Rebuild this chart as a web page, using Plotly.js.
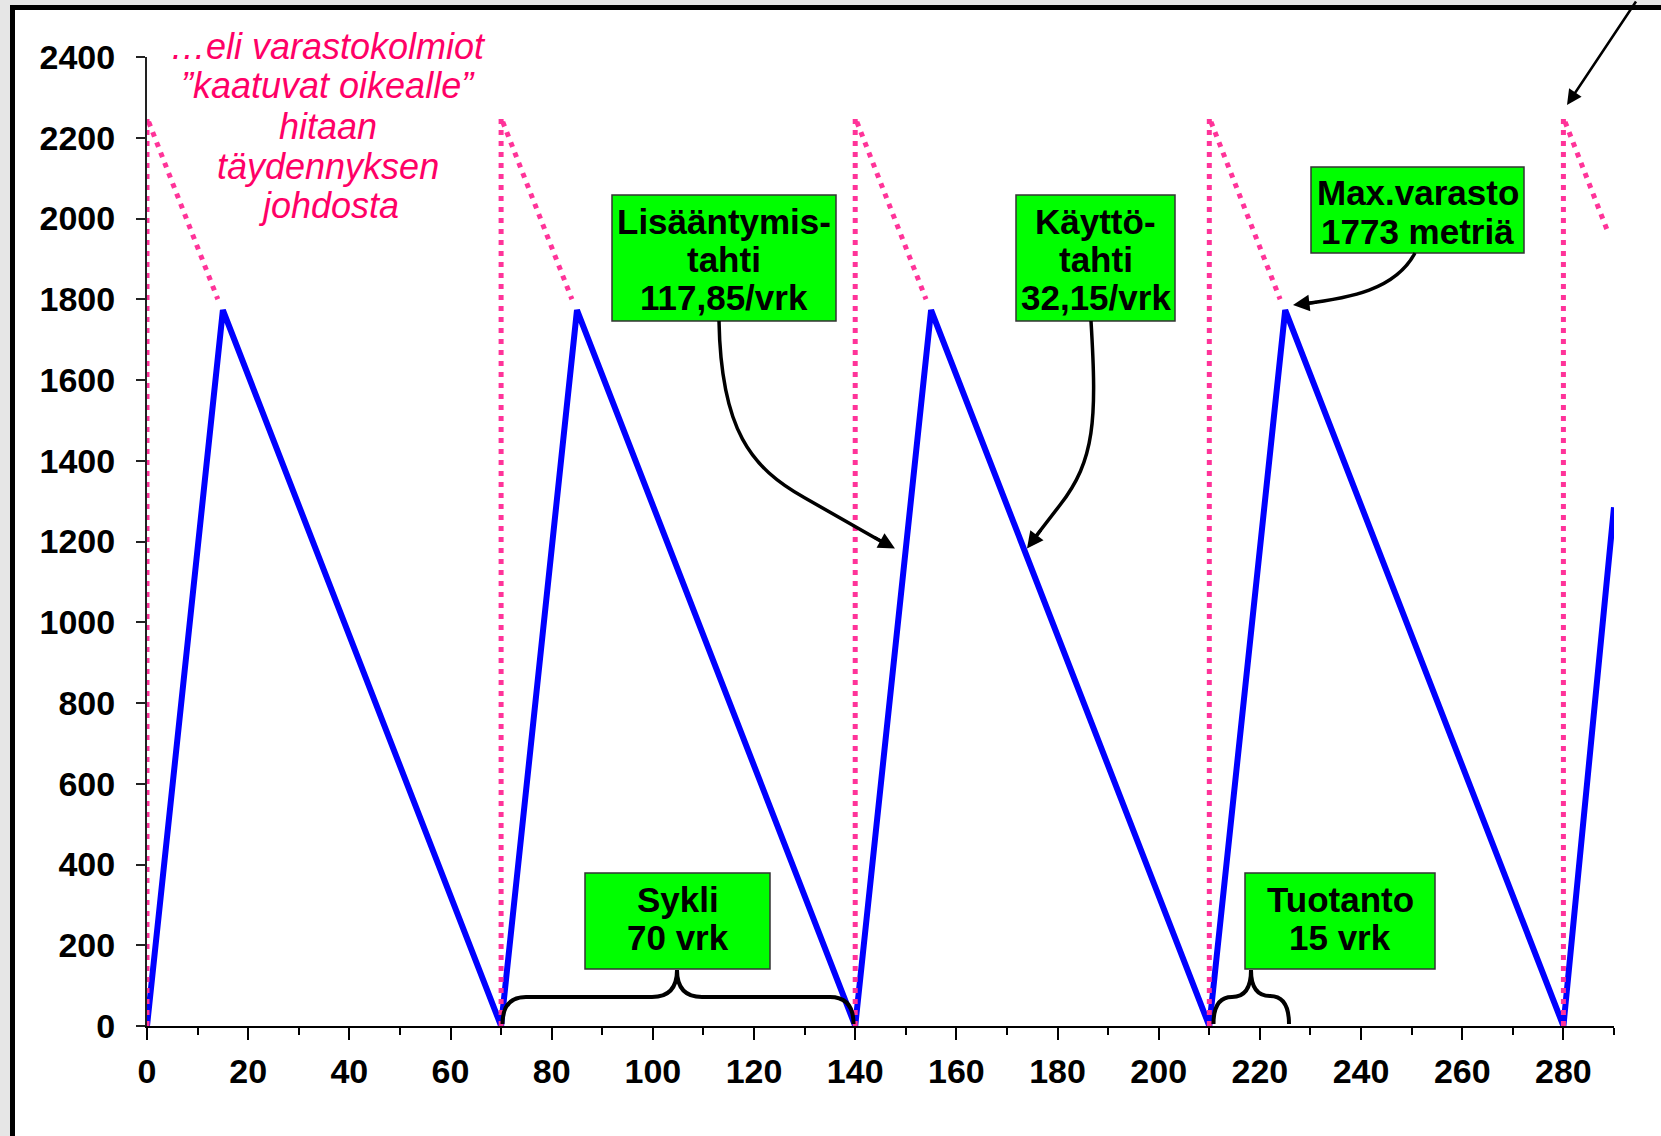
<!DOCTYPE html>
<html>
<head>
<meta charset="utf-8">
<script src="https://cdn.plot.ly/plotly-3.0.1.min.js"></script>
<style>
  html, body { margin: 0; padding: 0; background: #e6e6e6; }
  #chart { width: 1661px; height: 1136px; }
</style>
</head>
<body>
<div id="chart"></div>
<script>
// ---- data ----
const days = [0, 15, 70, 85, 140, 155, 210, 225, 280, 290];
const stock = [0, 1773, 0, 1773, 0, 1773, 0, 1773, 0, 1285];

const instantDays  = [0, 0, 14, null, 70, 70, 84, null, 140, 140, 154, null, 210, 210, 224, null, 280, 280, 289];
const instantStock = [0, 2250, 1800, null, 0, 2250, 1800, null, 0, 2250, 1800, null, 0, 2250, 1800, null, 0, 2250, 1960];

const xTickVals = [0, 20, 40, 60, 80, 100, 120, 140, 160, 180, 200, 220, 240, 260, 280];
const yTickVals = [0, 200, 400, 600, 800, 1000, 1200, 1400, 1600, 1800, 2000, 2200, 2400];

const noteLines = ["…eli varastokolmiot", "”kaatuvat oikealle”", "hitaan", "täydennyksen", "johdosta"];

const boxLabels = [
  { lines: ["Lisääntymis-", "tahti", "117,85/vrk"] },
  { lines: ["Käyttö-", "tahti", "32,15/vrk"] },
  { lines: ["Max.varasto", "1773 metriä"] },
  { lines: ["Sykli", "70 vrk"] },
  { lines: ["Tuotanto", "15 vrk"] }
];

// ---- layout geometry ----
const W = 1661, H = 1136;
const mar = { l: 147, r: 47, t: 57, b: 110 };
const xMax = 290, yMax = 2400;
const pw = W - mar.l - mar.r, ph = H - mar.t - mar.b;
// pixel -> data / paper helpers for annotation placement
const X = px => (px - mar.l) / pw * xMax;
const Y = py => (H - mar.b - py) / ph * yMax;
const PX = px => (px - mar.l) / pw;
const PY = py => (H - mar.b - py) / ph;

// box geometry (pixels)
const boxGeom = [
  { x0: 612, x1: 836, y0: 195, y1: 321, cy: [221, 259, 297.5] },
  { x0: 1016, x1: 1175, y0: 195, y1: 321, cy: [221, 259, 297.5] },
  { x0: 1311, x1: 1524, y0: 167, y1: 253, cy: [192, 231.5] },
  { x0: 585, x1: 770, y0: 873, y1: 969, cy: [899, 937.5] },
  { x0: 1245, x1: 1435, y0: 873, y1: 969, cy: [899, 937.5] }
];

const shapes = [];
const annotations = [];

// outer frame
shapes.push({
  type: 'rect', xref: 'paper', yref: 'paper', layer: 'below',
  x0: PX(12.5), x1: PX(1720), y0: PY(7.5), y1: PY(1220),
  fillcolor: 'white', line: { color: 'black', width: 5 }
});

// green boxes + their text
boxLabels.forEach((b, i) => {
  const g = boxGeom[i];
  shapes.push({
    type: 'rect', xref: 'paper', yref: 'paper', layer: 'above',
    x0: PX(g.x0), x1: PX(g.x1), y0: PY(g.y1), y1: PY(g.y0),
    fillcolor: '#00ff00', line: { color: '#333', width: 1.5 }
  });
  b.lines.forEach((t, j) => {
    annotations.push({
      xref: 'paper', yref: 'paper', x: PX((g.x0 + g.x1) / 2), y: PY(g.cy[j]),
      text: t, showarrow: false, xanchor: 'center', yanchor: 'middle',
      font: { family: 'Liberation Sans, Arial, sans-serif', size: 35, color: 'black', weight: 'bold' }
    });
  });
});

// pink italic note
const noteCy = [46, 86, 126, 166, 206];
noteLines.forEach((t, j) => {
  annotations.push({
    xref: 'paper', yref: 'paper', x: PX(328), y: PY(noteCy[j]),
    text: t, showarrow: false, xanchor: 'center', yanchor: 'middle',
    font: { family: 'Liberation Sans, Arial, sans-serif', size: 36, color: '#ff0066', style: 'italic' }
  });
});

// curly braces
function pathFromPx(cmds) {
  return cmds.map(c => c[0] + ' ' + c.slice(1).map(p => X(p[0]).toFixed(3) + ',' + Y(p[1]).toFixed(3)).join(' ')).join(' ');
}
const braceSykli = [
  ['M', [502.5, 1024]], ['Q', [502.5, 997], [526, 997]], ['L', [652, 997]],
  ['Q', [677, 997], [677, 970]], ['Q', [677, 997], [702, 997]], ['L', [830, 997]],
  ['Q', [853.5, 997], [853.5, 1024]]
];
const braceTuot = [
  ['M', [1213.5, 1024]], ['Q', [1213.5, 997], [1232, 997]], ['Q', [1251, 997], [1251, 970]],
  ['Q', [1251, 996], [1270, 996]], ['Q', [1289, 996], [1289, 1024]]
];
[braceSykli, braceTuot].forEach(b => shapes.push({
  type: 'path', xref: 'x', yref: 'y', layer: 'above', path: pathFromPx(b),
  line: { color: 'black', width: 4 }
}));

// curved arrows (bodies)
const arrowBodies = [
  [['M', [719, 321]], ['C', [721, 430], [751, 468], [805, 498]], ['L', [884, 543]]],
  [['M', [1091, 321]], ['C', [1097, 420], [1095, 460], [1060, 505]], ['L', [1033, 540]]],
  [['M', [1415, 253]], ['C', [1395, 290], [1350, 298], [1303, 304]]]
];
arrowBodies.forEach(b => shapes.push({
  type: 'path', xref: 'x', yref: 'y', layer: 'above', path: pathFromPx(b),
  line: { color: 'black', width: 3.5 }
}));
// arrow heads
const heads = [
  { tip: [895, 548.5], ax: -22, ay: -12, w: 3, s: 1.1 },
  { tip: [1027, 548.5], ax: 15, ay: -20, w: 3, s: 1.1 },
  { tip: [1293, 305], ax: 25, ay: -3, w: 3, s: 1.1 },
  { tip: [1567, 105], ax: 70, ay: -120, w: 2.5, s: 1.2 }
];
heads.forEach(h => annotations.push({
  xref: 'paper', yref: 'paper', x: PX(h.tip[0]), y: PY(h.tip[1]), ax: h.ax, ay: h.ay,
  text: '', showarrow: true, arrowhead: 2, arrowsize: h.s, arrowwidth: h.w,
  arrowcolor: 'black', standoff: 0
}));

const traces = [
  {
    x: days, y: stock, type: 'scatter', mode: 'lines',
    line: { color: '#0000ff', width: 6 }, hoverinfo: 'skip'
  },
  {
    x: instantDays, y: instantStock, type: 'scatter', mode: 'lines',
    line: { color: '#ff3399', width: 5, dash: '5px,6px' }, hoverinfo: 'skip', connectgaps: false
  }
];

const tickFont = { family: 'Liberation Sans, Arial, sans-serif', size: 34, color: 'black', weight: 'bold' };

const layout = {
  width: W, height: H,
  margin: mar,
  paper_bgcolor: '#e6e6e6',
  plot_bgcolor: 'rgba(0,0,0,0)',
  showlegend: false,
  xaxis: {
    range: [0, xMax], tickvals: xTickVals, ticktext: xTickVals.map(String),
    ticks: 'outside', ticklen: 12, tickwidth: 2, tickcolor: 'black',
    minor: { dtick: 10, tick0: 0, ticks: 'outside', ticklen: 7, tickwidth: 2, tickcolor: 'black' },
    showline: true, linecolor: 'black', linewidth: 2,
    showgrid: false, zeroline: false, tickfont: tickFont, ticklabelstandoff: 2
  },
  yaxis: {
    range: [0, yMax], tickvals: yTickVals, ticktext: yTickVals.map(String),
    ticks: 'outside', ticklen: 9, tickwidth: 2, tickcolor: '#222',
    showline: true, linecolor: '#222', linewidth: 2,
    showgrid: false, zeroline: false, tickfont: tickFont, ticklabelstandoff: 14
  },
  shapes: shapes,
  annotations: annotations
};

Plotly.newPlot('chart', traces, layout, { displayModeBar: false, staticPlot: true });
</script>
</body>
</html>
